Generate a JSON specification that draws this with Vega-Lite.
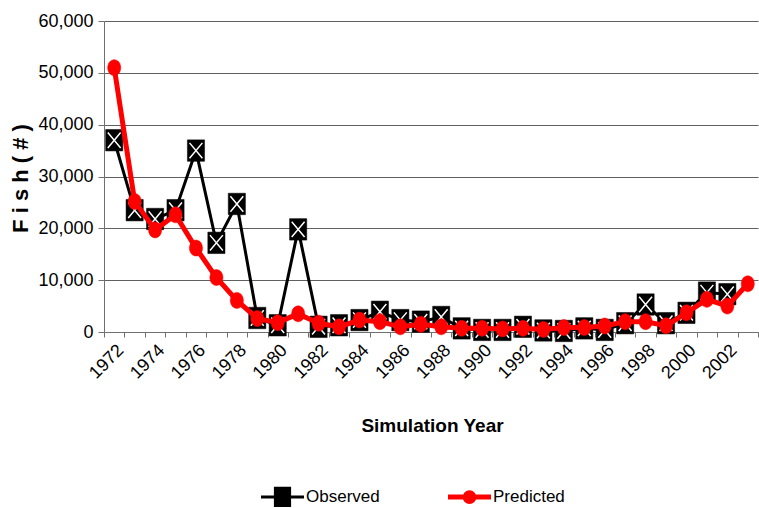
{
  "$schema": "https://vega.github.io/schema/vega-lite/v6.json",
  "width": 654,
  "height": 311,
  "autosize": {"type": "none"},
  "padding": {"left": 104, "top": 21, "right": 1, "bottom": 176},
  "background": "white",
  "config": {
    "view": {"stroke": null},
    "font": "Liberation Sans",
    "axis": {
      "labelFont": "Liberation Sans",
      "labelFontSize": 18,
      "labelColor": "black",
      "titleFont": "Liberation Sans",
      "titleFontSize": 19,
      "titleFontWeight": "bold",
      "titleColor": "black",
      "domainColor": "#707070",
      "tickColor": "#707070",
      "gridColor": "#606060",
      "gridOpacity": 1
    },
    "legend": {"labelFont": "Liberation Sans"}
  },
  "data": {
    "values": [
      {"year": 1972, "observed": 37000, "predicted": 51000},
      {"year": 1973, "observed": 23500, "predicted": 25200},
      {"year": 1974, "observed": 21800, "predicted": 19700},
      {"year": 1975, "observed": 23500, "predicted": 22600},
      {"year": 1976, "observed": 35000, "predicted": 16200},
      {"year": 1977, "observed": 17200, "predicted": 10500},
      {"year": 1978, "observed": 24700, "predicted": 6100},
      {"year": 1979, "observed": 2700, "predicted": 2600},
      {"year": 1980, "observed": 1300, "predicted": 1800},
      {"year": 1981, "observed": 19800, "predicted": 3500},
      {"year": 1982, "observed": 1000, "predicted": 1700},
      {"year": 1983, "observed": 1300, "predicted": 1000},
      {"year": 1984, "observed": 2300, "predicted": 2300},
      {"year": 1985, "observed": 3900, "predicted": 2000},
      {"year": 1986, "observed": 2300, "predicted": 1000},
      {"year": 1987, "observed": 2000, "predicted": 1500},
      {"year": 1988, "observed": 2900, "predicted": 1000},
      {"year": 1989, "observed": 700, "predicted": 700},
      {"year": 1990, "observed": 400, "predicted": 700},
      {"year": 1991, "observed": 400, "predicted": 600},
      {"year": 1992, "observed": 1000, "predicted": 700},
      {"year": 1993, "observed": 300, "predicted": 500},
      {"year": 1994, "observed": 200, "predicted": 850},
      {"year": 1995, "observed": 700, "predicted": 850},
      {"year": 1996, "observed": 400, "predicted": 1150},
      {"year": 1997, "observed": 1700, "predicted": 2000},
      {"year": 1998, "observed": 5300, "predicted": 2000},
      {"year": 1999, "observed": 1700, "predicted": 1200},
      {"year": 2000, "observed": 3700, "predicted": 3700},
      {"year": 2001, "observed": 7600, "predicted": 6300},
      {"year": 2002, "observed": 7300, "predicted": 5000},
      {"year": 2003, "observed": null, "predicted": 9300}
    ]
  },
  "encoding": {
    "x": {
      "field": "year",
      "type": "ordinal",
      "scale": {"type": "band", "paddingInner": 0, "paddingOuter": 0},
      "axis": {
        "title": "Simulation Year",
        "titleX": 328,
        "titleY": 93,
        "titleBaseline": "middle",
        "labelAngle": -45,
        "labelAlign": "right",
        "labelBaseline": "top",
        "labelPadding": 4,
        "labelOverlap": false,
        "labelExpr": "datum.value % 2 == 0 ? datum.label : ''",
        "tickBand": "extent",
        "tickSize": 5,
        "grid": false
      }
    }
  },
  "layer": [
    {
      "mark": {"type": "line", "strokeWidth": 3},
      "encoding": {
        "y": {
          "field": "observed",
          "type": "quantitative",
          "scale": {"domain": [0, 60000], "nice": false},
          "axis": {
            "title": "F i s h  ( # )",
            "titleFontSize": 22,
            "titleX": -84,
            "titleY": 157,
            "titleAngle": -90,
            "titleBaseline": "middle",
            "values": [0, 10000, 20000, 30000, 40000, 50000, 60000],
            "format": ",.0f",
            "tickSize": 6,
            "labelPadding": 5,
            "grid": true
          }
        },
        "color": {
          "datum": "Observed",
          "scale": {"domain": ["Observed", "Predicted"], "range": ["black", "red"]},
          "legend": {
            "orient": "none",
            "legendX": 170,
            "legendY": 467,
            "direction": "horizontal",
            "title": null,
            "padding": 0,
            "columnPadding": 58,
            "labelFontSize": 17,
            "labelColor": "black",
            "labelOffset": 15,
            "symbolSize": 1849,
            "encode": {
              "symbols": {
                "update": {
                  "shape": {"signal": "datum.value === 'Observed' ? 'M-1,0H-0.33M0.33,0H1M-0.33,-0.4H0.33V0.4H-0.33Z' : 'M-1,0H1M-0.2,0A0.2,0.2 0 1,0 0.2,0A0.2,0.2 0 1,0 -0.2,0'"},
                  "fill": {"signal": "datum.value === 'Observed' ? 'black' : 'red'"},
                  "stroke": {"signal": "datum.value === 'Observed' ? 'black' : 'red'"},
                  "strokeWidth": {"signal": "datum.value === 'Observed' ? 3 : 5"},
                  "opacity": {"value": 1},
                  "fillOpacity": {"value": 1}
                }
              }
            }
          }
        }
      }
    },
    {
      "mark": {"type": "point", "shape": "M-0.8,-1H0.8V1H-0.8Z", "filled": true, "fill": "black", "stroke": "black", "strokeWidth": 0.5, "size": 460, "opacity": 1},
      "encoding": {
        "y": {"field": "observed", "type": "quantitative", "axis": {"title": "F i s h  ( # )", "format": ",.0f", "values": [0, 10000, 20000, 30000, 40000, 50000, 60000]}}
      }
    },
    {
      "mark": {"type": "point", "shape": "M-0.6,-0.72L0.6,0.72M-0.6,0.72L0.6,-0.72", "filled": false, "stroke": "white", "strokeWidth": 1.5, "size": 460, "opacity": 1},
      "encoding": {
        "y": {"field": "observed", "type": "quantitative", "axis": {"title": "F i s h  ( # )", "format": ",.0f", "values": [0, 10000, 20000, 30000, 40000, 50000, 60000]}}
      }
    },
    {
      "mark": {"type": "line", "strokeWidth": 5},
      "encoding": {
        "y": {"field": "predicted", "type": "quantitative", "axis": {"title": "F i s h  ( # )", "format": ",.0f", "values": [0, 10000, 20000, 30000, 40000, 50000, 60000]}},
        "color": {"datum": "Predicted"}
      }
    },
    {
      "mark": {"type": "point", "shape": "M-0.82,0A0.82,1 0 1,0 0.82,0A0.82,1 0 1,0 -0.82,0", "filled": true, "fill": "red", "stroke": "red", "strokeWidth": 0.5, "size": 256, "opacity": 1},
      "encoding": {
        "y": {"field": "predicted", "type": "quantitative", "axis": {"title": "F i s h  ( # )", "format": ",.0f", "values": [0, 10000, 20000, 30000, 40000, 50000, 60000]}}
      }
    }
  ]
}
